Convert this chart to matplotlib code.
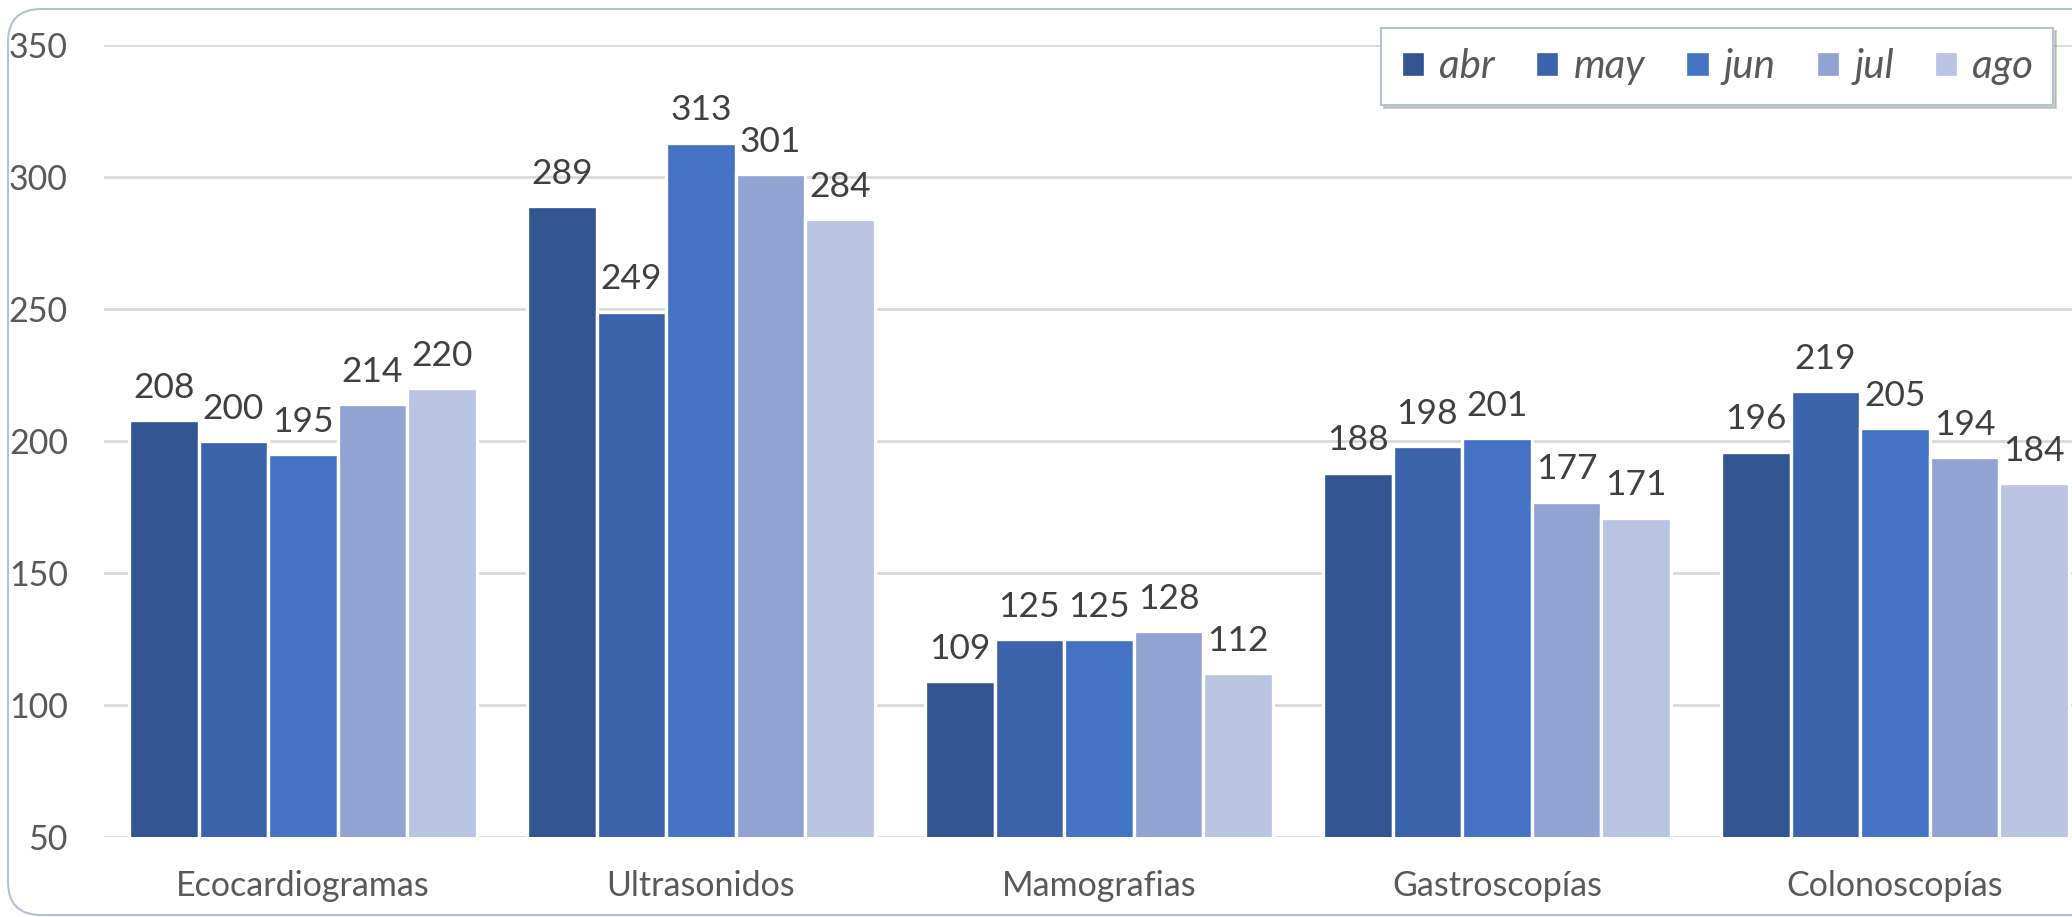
import matplotlib.pyplot as plt
from matplotlib.patches import FancyBboxPatch
import numpy as np

categories = ['Ecocardiogramas', 'Ultrasonidos', 'Mamografias', 'Gastroscopías', 'Colonoscopías']
months = ['abr', 'may', 'jun', 'jul', 'ago']
abr = [208, 289, 109, 188, 196]
may = [200, 249, 125, 198, 219]
jun = [195, 313, 125, 201, 205]
jul = [214, 301, 128, 177, 194]
ago = [220, 284, 112, 171, 184]
series = [abr, may, jun, jul, ago]
colors = ['#325591', '#3B63AB', '#4473C5', '#90A3D3', '#B9C3E2']

plt.rcParams['font.family'] = ['Lato', 'DejaVu Sans']

fig = plt.figure(figsize=(20.72, 9.17), dpi=100)
ax = fig.add_axes([104 / 2072, 1 - 837 / 917, 1990 / 2072, (837 - 45) / 917])

x = np.arange(len(categories))
group = 0.874
bw = group / len(series)
for j, vals in enumerate(series):
    pos = x + (j - 2) * bw
    ax.bar(pos, vals, width=bw, color=colors[j], edgecolor='white',
           linewidth=2.4, label=months[j], zorder=3)
    for xp, v in zip(pos, vals):
        ax.annotate(str(v), (xp, v), xytext=(0, 16), textcoords='offset points',
                    ha='center', va='baseline', fontsize=25.5, color='#404040')

ax.set_xlim(-0.5, 4.5)
ax.set_ylim(50, 350)
ax.set_yticks(range(50, 351, 50))
ax.set_xticks(x)
ax.set_xticklabels(categories)
ax.tick_params(axis='both', length=0, labelsize=24.5, labelcolor='#595959')
ax.tick_params(axis='y', pad=26)
ax.tick_params(axis='x', pad=24)
ax.grid(axis='y', color='#D9D9D9', linewidth=2, zorder=0)
for s in ax.spines.values():
    s.set_visible(False)

leg = ax.legend(loc='upper left', bbox_to_anchor=(1381 / 2072, 1 - 28 / 917),
                bbox_transform=fig.transFigure, ncol=5, frameon=True,
                fancybox=False, shadow={'color': '#8c8c8c', 'alpha': 0.4},
                prop={'style': 'italic', 'size': 29}, labelcolor='#595959',
                handlelength=0.6, handleheight=0.6, handletextpad=0.35,
                columnspacing=1.0, borderpad=0.5, borderaxespad=0)
leg.get_frame().set_edgecolor('#B4C0D6')
leg.get_frame().set_linewidth(1.5)

border = FancyBboxPatch((8 / 2072, 2 / 917), 1.1, 1 - 11 / 917,
                        boxstyle='round,pad=0,rounding_size=0.016',
                        transform=fig.transFigure, fill=False,
                        edgecolor='#B4C0D6', linewidth=1.5, mutation_aspect=2072 / 917)
fig.patches.append(border)

fig.savefig('out.png', dpi=100)
